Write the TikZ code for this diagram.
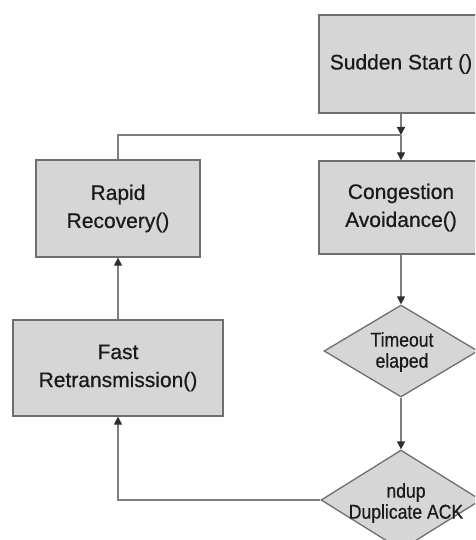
\documentclass[tikz,border=0pt]{standalone}
\usepackage{fontspec}
\setmainfont[FakeBold=0.6]{Liberation Sans}
\newfontfamily\condsans[FakeStretch=0.88,FakeBold=0.6]{Liberation Sans}
\usetikzlibrary{shapes.geometric,arrows.meta}
\definecolor{boxfill}{HTML}{D6D6D6}
\definecolor{boxline}{HTML}{6E6E6E}
\definecolor{wire}{HTML}{7E7E7E}
\definecolor{tip}{HTML}{2E2E2E}
\definecolor{ink}{HTML}{1A1A1A}
\tikzset{
  procbox/.style={draw=boxline, line width=1.3pt, fill=boxfill, rectangle,
    inner sep=0pt, align=center, text=ink,
    font=\fontsize{21}{28}\selectfont},
  decision/.style={draw=boxline, line width=1.3pt, fill=boxfill, diamond,
    inner sep=0pt},
  dtext/.style={align=center, text=ink, inner sep=0pt,
    font=\condsans\fontsize{20}{21}\selectfont},
  wireline/.style={draw=wire, line width=1.3pt},
  flow/.style={wireline, -{Triangle[length=8pt,width=8pt,color=tip]}},
}
\begin{document}
\begin{tikzpicture}[x=1pt,y=-1pt]
  \useasboundingbox (0,0) rectangle (475,540);
  \clip (0,0) rectangle (475,540);

  % process boxes
  \node[procbox, minimum width=164pt, minimum height=98pt] (sudden) at (401,64) {Sudden Start ()};
  \node[procbox, minimum width=164pt, minimum height=93pt] (cong) at (401,207.5) {Congestion\\Avoidance()};
  \node[procbox, minimum width=164pt, minimum height=97pt] (rapid) at (118,208.5) {Rapid\\Recovery()};
  \node[procbox, minimum width=210pt, minimum height=96pt] (fast) at (118,368) {Fast\\Retransmission()};

  % decisions
  \node[decision, minimum width=154pt, minimum height=92pt] (timeout) at (401,351) {};
  \node[dtext] (timeouttxt) at (402,352) {Timeout\\elaped};
  \node[decision, minimum width=160pt, minimum height=100pt] (ndup) at (401,500) {};
  \node[dtext] (nduptxt) at (406,503) {ndup\\Duplicate ACK};

  % junction above the congestion box
  \coordinate (join) at (401,135);

  % connectors
  \draw[flow] (sudden.south) -- (join);
  \draw[wireline] (rapid.north) |- (join);
  \draw[flow] (join) -- (cong.north);
  \draw[flow] (cong.south) -- (timeout.north);
  \draw[flow] (timeout.south) -- (ndup.north);
  \draw[flow] (ndup.west) -| (fast.south);
  \draw[flow] (fast.north) -- (rapid.south);
\end{tikzpicture}
\end{document}
